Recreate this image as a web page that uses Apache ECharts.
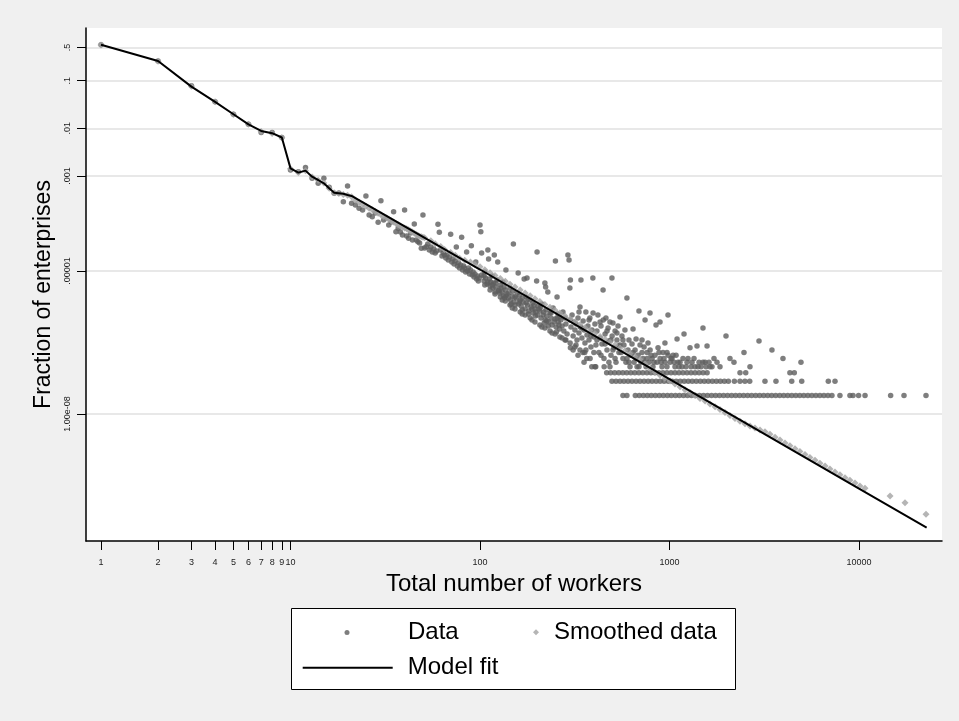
<!DOCTYPE html>
<html><head><meta charset="utf-8">
<script src="https://cdn.jsdelivr.net/npm/echarts@6/dist/echarts.min.js"></script>
<style>html,body{margin:0;padding:0;background:#f0f0f0}#chart{width:959px;height:721px}</style>
</head><body><div id="chart"></div>
<script>
// ---- tick labels ----
const xTickValues = [1,2,3,4,5,6,7,8,9,10,100,1000,10000];
const xTickLabels = ['1','2','3','4','5','6','7','8','9','10','100','1000','10000'];
const yTickValues = [0.5, 0.1, 0.01, 0.001, 0.00001, 1e-8];
const yTickLabels = ['.5', '.1', '.01', '.001', '.00001', '1.00e-08'];

// ---- Model fit ----
const modelX = [1,2,3,4,5,6,7,8,9,10,11,12,13,14,15,16,17,18,19,20,21,100,1000,10000,22750];
const modelY = [0.57,0.26,0.075,0.036,0.0197,0.0121,0.0088,0.0079,0.0064,0.00144,0.00117,0.00129,0.00096,0.00082,0.0007,0.000549,0.000444,0.000432,0.00042,0.000397,0.000379,1.08e-5,5.4e-8,2.7e-10,4.1e-11];

// ---- Data: small sizes ----
const dataHeadX = [1,2,3,4,5,6,7,8,9,10,11,12,13,14,15,16,17,18,19,20,21];
const dataHeadY = [0.57,0.26,0.078,0.036,0.0197,0.0121,0.0082,0.0082,0.0064,0.00133,0.00122,0.00151,0.00089,0.0007,0.00089,0.000576,0.000432,0.000437,0.000287,0.000614,0.000266];

// ---- Data: sizes 22-101 ----
const dataLow = [[22,2.45e-4],[23,2.09e-4],[24,1.92e-4],[25,3.78e-4],[26,1.51e-4],[27,1.39e-4],[28,1.66e-4],[29,1.06e-4],[30,3.02e-4],[31,1.19e-4],[32,1.31e-4],[33,9.31e-5],[34,1.08e-4],[35,1.77e-4],[36,6.73e-5],[37,7.94e-5],[38,6.64e-5],[39,5.73e-5],[40,1.92e-4],[41,5.46e-5],[42,4.89e-5],[43,6.32e-5],[44,4.5e-5],[45,9.8e-5],[46,4.5e-5],[47,4.14e-5],[48,3.89e-5],[49,3.01e-5],[50,1.51e-4],
[51,3.05e-5],[52,3.25e-5],[53,3.71e-5],[54,2.77e-5],[55,3.21e-5],[56,2.52e-5],[57,2.91e-5],[58,2.40e-5],[59,2.64e-5],[60,9.66e-5],[61,6.54e-5],[62,2.77e-5],[63,2.08e-5],[64,2.40e-5],[65,2.18e-5],[66,1.88e-5],[67,2.18e-5],[68,1.71e-5],[69,1.98e-5],[70,5.94e-5],[71,1.55e-5],[72,1.80e-5],[73,1.41e-5],[74,1.63e-5],[75,3.21e-5],[76,1.28e-5],[77,1.48e-5],[78,1.16e-5],[79,1.34e-5],[80,5.13e-5],[81,1.05e-5],[82,1.28e-5],[83,1.16e-5],[84,9.54e-6],[85,2.52e-5],[86,1.00e-5],[87,1.16e-5],[88,8.66e-6],[89,1.05e-5],[90,3.41e-5],[91,8.28e-6],[92,9.54e-6],[93,7.51e-6],[94,8.66e-6],[95,1.55e-5],[96,6.82e-6],[97,7.88e-6],[98,6.19e-6],[99,7.16e-6],[100,9.31e-5],[101,6.73e-5]];

// ---- Data: sizes 102-264 ----
const dataMid = [[102,2.40e-5],[102,8.28e-6],[105,6.19e-6],[106,9.54e-6],[107,7.16e-6],[109,5.35e-6],[110,2.77e-5],[111,1.80e-5],[112,6.82e-6],[113,4.86e-6],[114,5.90e-6],[116,7.88e-6],[117,4.41e-6],[119,2.18e-5],[118,5.62e-6],[121,4.63e-6],[123,6.50e-6],[124,1.55e-5],[125,3.82e-6],[128,5.10e-6],[127,3.47e-6],[129,4.41e-6],[132,5.90e-6],[133,3.00e-6],[136,4.01e-6],[137,1.05e-5],[139,3.30e-6],[141,2.72e-6],[144,4.41e-6],[145,2.47e-6],[150,3.71e-5],[148,3.00e-6],[149,3.82e-6],[151,2.24e-6],[155,2.72e-6],[157,3.47e-6],[159,9.09e-6],[160,2.04e-6],[163,2.47e-6],[162,3.15e-6],[165,1.85e-6],[169,2.24e-6],[171,6.82e-6],[173,1.60e-6],[175,2.86e-6],[177,7.16e-6],[178,1.94e-6],[181,1.45e-6],[184,2.47e-6],[186,1.76e-6],[190,2.14e-6],[191,1.32e-6],[195,1.60e-6],[200,2.52e-5],[199,6.19e-6],[201,1.20e-6],[202,1.85e-6],[207,1.45e-6],[210,1.04e-6],[212,2.04e-6],[215,1.20e-6],[220,5.62e-6],[221,9.39e-7],[223,1.52e-6],[225,1.14e-6],[228,3.64e-6],[231,8.53e-7],[234,1.32e-6],[237,1.04e-6],[240,7.38e-7],[243,1.68e-6],[250,1.63e-5],[249,9.86e-7],[252,6.70e-7],[255,2.86e-6],[258,1.26e-6],[259,8.53e-7],[264,1.09e-6],[263,6.08e-7],[209,1.76e-6],[222,4.63e-6],[196,1.14e-6],[229,7.03e-7],[253,5.26e-7],[180,1.26e-6],[153,1.94e-6],[135,2.72e-6],[120,3.64e-6],[167,1.52e-6],[218,8.12e-7],
[105,7.88e-6],[110,5.90e-6],[116,5.10e-6],[121,5.62e-6],[126,4.01e-6],[131,3.64e-6],[134,4.63e-6],[137,3.00e-6],[142,3.47e-6],[146,2.04e-6],[153,2.86e-6],[161,2.24e-6],[167,2.72e-6],[175,2.14e-6],[179,2.59e-6],[188,1.60e-6],[193,1.94e-6],[197,1.38e-6],[205,1.60e-6],[217,1.38e-6],[225,8.95e-7],[237,1.32e-6],[246,8.53e-7],[255,1.04e-6],[261,7.38e-7],
[106,5.10e-6],[113,4.01e-6],[120,3.30e-6],[128,2.86e-6],[136,2.35e-6],[144,1.94e-6],[153,1.60e-6],[163,1.38e-6],[173,1.20e-6],[184,1.04e-6],[195,8.53e-7],[207,7.38e-7],[220,6.38e-7],[234,5.52e-7],[249,4.77e-7],[264,4.13e-7],[131,2.47e-6],[148,1.68e-6],[167,1.26e-6],[188,9.39e-7],[212,6.70e-7],[240,5.01e-7]];

// ---- Data: sizes 264-550 ----
const dataHigh = [[267,9.39e-7],[271,7.03e-7],[274,1.38e-6],[277,5.52e-7],[281,1.04e-6],[284,7.74e-7],[288,4.77e-7],[291,2.18e-5],[295,1.71e-5],[300,6.50e-6],[298,4.41e-6],[299,9.39e-7],[300,2.44e-7],[302,6.70e-7],[306,1.20e-6],[310,4.33e-7],[313,8.53e-7],[317,5.79e-7],[321,7.74e-7],[325,3.57e-7],[329,1.04e-6],[333,5.01e-7],[337,1.76e-6],[338,6.70e-7],[341,6.50e-6],[345,3.93e-7],[349,1.95e-7],[350,8.95e-7],[354,5.79e-7],[358,3.09e-7],[362,1.38e-6],[367,4.55e-7],[366,1.46e-7],[371,7.03e-7],[376,3.57e-7],[380,1.04e-6],[385,2.55e-7],[389,9.76e-8],[390,5.79e-7],[394,7.16e-6],[395,1.32e-6],[399,4.13e-7],[404,7.74e-7],[409,2.80e-7],[414,5.52e-7],[419,1.20e-6],[424,1.95e-7],[430,3.93e-7],[435,7.03e-7],[440,2.94e-7],[446,4.01e-6],[447,9.39e-7],[451,1.46e-7],[457,4.77e-7],[462,1.04e-6],[468,2.20e-7],[474,6.38e-7],[479,3.40e-7],[485,8.53e-7],[491,1.71e-7],[497,7.16e-6],[498,4.33e-7],[503,8.12e-7],[509,2.44e-7],[516,5.52e-7],[522,1.22e-7],[528,3.57e-7],[535,7.03e-7],[541,1.95e-7],[548,1.09e-6],[547,2.80e-7],[408,9.76e-8],[452,9.76e-8],[357,1.95e-7],[381,1.46e-7],
[321,2.80e-7],[333,1.38e-6],[345,6.38e-7],[362,2.20e-7],[376,9.39e-7],[385,4.33e-7],[399,1.95e-7],[414,3.57e-7],[430,8.53e-7],[435,1.71e-7],[457,2.94e-7],[468,5.52e-7],[479,1.22e-7],[491,3.57e-7],[503,2.20e-7],[516,1.46e-7],[528,5.01e-7],[541,2.67e-7],[284,3.57e-7],[310,2.20e-7],[329,1.71e-7],[354,1.22e-7],[404,9.76e-8],[485,9.76e-8],
[271,3.93e-7],[281,3.57e-7],[299,3.09e-7],[317,2.55e-7],[337,2.20e-7]];

// ---- Data: sizes above 550 ----
const dataTail = [[561,4.33e-7],[568,1.46e-7],[575,2.80e-7],[582,5.79e-7],[589,1.22e-7],[596,2.72e-6],[604,2.20e-7],[611,3.57e-7],[619,9.76e-8],[626,1.71e-7],[634,2.94e-7],[642,6.08e-7],[650,1.22e-7],[658,2.20e-7],[666,3.75e-7],[674,9.76e-8],[682,1.71e-7],[690,1.45e-6],[699,2.80e-7],[707,1.22e-7],[716,1.95e-7],[725,1.46e-7],[734,2.55e-7],[743,9.39e-7],[752,9.76e-8],[761,1.95e-7],[770,3.09e-7],[779,1.22e-7],[789,1.32e-6],[790,2.20e-7],[809,1.46e-7],[818,9.76e-8],[838,1.71e-7],[849,7.38e-7],[859,1.22e-7],[870,2.44e-7],[891,8.53e-7],[892,1.46e-7],[913,9.76e-8],[924,1.95e-7],[946,3.09e-7],[947,1.22e-7],[970,9.76e-8],[982,1.20e-6],[983,1.71e-7],[1007,1.22e-7],[1031,1.46e-7],[1044,1.71e-7],[1069,9.76e-8],[1096,3.75e-7],[1109,1.22e-7],[1136,1.22e-7],[1164,9.76e-8],[1193,4.77e-7],[1222,9.76e-8],[1252,1.46e-7],[1283,2.44e-7],[1315,1.22e-7],[1364,9.76e-8],[1397,2.68e-7],[1432,1.22e-7],[1467,9.76e-8],[1502,6.38e-7],[1540,1.22e-7],[1578,2.68e-7],[1616,1.22e-7],[1676,9.76e-8],[1717,1.46e-7],[1781,1.22e-7],[1847,9.76e-8],[1987,4.33e-7],[2085,1.46e-7],[2189,1.22e-7],[2472,1.95e-7],[2967,3.40e-7],[3473,2.20e-7],[3970,1.46e-7],[4940,1.22e-7],[2659,9.76e-8],
[555,1.95e-7],[568,3.57e-7],[596,1.46e-7],[611,1.22e-7],[642,1.95e-7],[666,1.46e-7],[690,9.76e-8],[716,3.57e-7],[734,1.22e-7],[761,1.46e-7],[799,1.71e-7],[828,1.22e-7],[880,1.95e-7],[902,1.22e-7],[935,1.46e-7],[970,1.95e-7],[1019,1.46e-7],[1057,1.22e-7],[1083,1.71e-7],[1122,9.76e-8],[1178,1.46e-7],[1237,1.22e-7],[1299,9.76e-8],[1347,1.46e-7],[1414,9.76e-8],[1502,1.22e-7],[1559,9.76e-8],[1636,9.76e-8]];

// ---- Data: the three lowest count levels (1, 2 and 3 enterprises) ----
const level1Y = 2.44e-8;
const level1X = [568,596,660,693,728,764,802,842,884,928,975,1023,1075,1128,1185,1244,1306,1371,1440,1512,1587,1667,1750,1837,1929,2025,2127,2233,2344,2461,2584,2713,2849,2991,3141,3298,3462,3635,3817,4008,4208,4419,4640,4872,5115,5371,5640,5922,6218,6529,6855,7198,7932,8957,9300,9950,10760,14690,17280,22570];
const level2Y = 4.88e-8;
const level2X = [497,522,548,575,604,634,666,699,734,771,809,850,892,937,984,1033,1085,1139,1196,1256,1318,1384,1454,1526,1602,1683,1767,1855,1948,2045,2200,2355,2500,2650,3190,3646,4416,4986,6887,7471];
const level3Y = 7.32e-8;
const level3X = [466,489,514,540,567,595,625,656,689,723,760,798,837,879,923,969,1018,1069,1122,1178,1237,1299,1364,1432,1504,1579,2355,2525,4319,4555];

// ---- Smoothed data ----
const smoothX = [1,2,3,4,5,6,7,8,9,10,11,12,13,14,15,16,17,18,19,20,21,
22,23,24,25,26,27,28,29,30,31,32,33,34,35,36,37,38,39,40,41,42,43,44,45,46,47,48,49,50,51,55,58,62,65,70,74,78,83,89,94,100,106,113,120,128,136,144,153,163,173,184,195,207,220,234,249,264,281,299,317,337,358,380,404,430,457,485,516,548,582,619,658,699,743,789,838,891,946,1007,1069,1136,1207,1283,1364,1449,1540,1636,1739,1847,1963,2085,2216,2355,2502,2659,2825,3003,3190,3390,3606,3828,4070,4322,4596,4880,5188,5510,5859,6222,6619,7025,7468,7932,8433,8957,9526,10113,10760,14590,17490,22570];
const smoothY = [0.56,0.255,0.076,0.036,0.0195,0.0122,0.0086,0.0078,0.0063,0.00142,0.00118,0.00128,0.00095,0.00081,0.00071,0.00055,0.000445,0.000425,0.000405,0.00039,0.000365,
3.10e-4,2.81e-4,2.55e-4,2.31e-4,2.10e-4,1.94e-4,1.79e-4,1.65e-4,1.52e-4,1.41e-4,1.32e-4,1.23e-4,1.14e-4,1.07e-4,1.00e-4,9.4e-5,8.83e-5,8.33e-5,8.05e-5,7.79e-5,7.35e-5,6.97e-5,6.61e-5,6.26e-5,5.95e-5,5.65e-5,5.41e-5,5.28e-5,5.15e-5,5.0e-5,4.33e-5,3.76e-5,3.27e-5,2.84e-5,2.47e-5,2.15e-5,1.86e-5,1.70e-5,1.55e-5,1.38e-5,1.23e-5,1.07e-5,9.26e-6,8.08e-6,7.02e-6,6.10e-6,5.30e-6,4.61e-6,4.01e-6,3.48e-6,3.03e-6,2.63e-6,2.29e-6,1.99e-6,1.73e-6,1.50e-6,1.31e-6,1.14e-6,9.86e-7,8.56e-7,7.45e-7,6.48e-7,5.62e-7,4.89e-7,4.25e-7,3.69e-7,3.21e-7,2.79e-7,2.43e-7,2.11e-7,1.83e-7,1.59e-7,1.39e-7,1.12e-7,9.0e-8,7.48e-8,6.50e-8,5.64e-8,4.91e-8,4.27e-8,3.71e-8,3.23e-8,2.80e-8,2.43e-8,2.11e-8,1.87e-8,1.62e-8,1.41e-8,1.23e-8,1.07e-8,9.25e-9,8.04e-9,7.0e-9,6.2e-9,5.55e-9,5.06e-9,4.61e-9,4.21e-9,3.74e-9,3.25e-9,2.83e-9,2.46e-9,2.14e-9,1.86e-9,1.62e-9,1.40e-9,1.22e-9,1.06e-9,9.2e-10,8.0e-10,6.95e-10,6.04e-10,5.25e-10,4.57e-10,4.06e-10,3.53e-10,3.07e-10,2.74e-10,1.89e-10,1.36e-10,7.8e-11];

// ---- build (log10 coordinates on value axes labelled in original units) ----
const L = Math.log10;
const toLog = p => [L(p[0]), L(p[1])];
const dataPoints = []
  .concat(dataHeadX.map((x, i) => [x, dataHeadY[i]]))
  .concat(dataLow, dataMid, dataHigh, dataTail)
  .concat(level1X.map(x => [x, level1Y]))
  .concat(level2X.map(x => [x, level2Y]))
  .concat(level3X.map(x => [x, level3Y]))
  .map(toLog);
const smoothPoints = smoothX.map((x, i) => toLog([x, smoothY[i]]));
const modelPoints = modelX.map((x, i) => toLog([x, modelY[i]]));

function labeller(values, labels) {
  return function (v) {
    for (let i = 0; i < values.length; i++) {
      if (Math.abs(L(values[i]) - v) < 1e-6) return labels[i];
    }
    return '';
  };
}

const FONT = '"Liberation Sans", Arial, Helvetica, sans-serif';
const chart = echarts.init(document.getElementById('chart'), null, { renderer: 'canvas' });
chart.setOption({
  animation: false,
  backgroundColor: '#f0f0f0',
  textStyle: { fontFamily: FONT },
  grid: { left: 86, right: 17, top: 28, bottom: 180, show: true, backgroundColor: '#ffffff', borderWidth: 0 },
  xAxis: {
    type: 'value', min: -0.0792, max: 4.438,
    name: 'Total number of workers', nameLocation: 'middle', nameGap: 29,
    nameTextStyle: { fontSize: 24, color: '#000', fontFamily: FONT },
    axisLine: { show: true, onZero: false, lineStyle: { color: '#000', width: 1.5 } },
    axisTick: { show: true, length: 9, customValues: xTickValues.map(v => L(v)), lineStyle: { color: '#000', width: 1 } },
    axisLabel: { show: true, margin: 17, fontSize: 9, color: '#222', fontFamily: FONT, hideOverlap: false,
      customValues: xTickValues.map(v => L(v)), formatter: labeller(xTickValues, xTickLabels) },
    splitLine: { show: false }
  },
  yAxis: {
    type: 'value', min: -10.67, max: 0.107,
    name: 'Fraction of enterprises', nameLocation: 'middle', nameGap: 24,
    nameTextStyle: { fontSize: 23, color: '#000', fontFamily: FONT, padding: [0, 20, 0, 0] },
    axisLine: { show: true, onZero: false, lineStyle: { color: '#000', width: 1.5 } },
    axisTick: { show: true, length: 9, customValues: yTickValues.map(v => L(v)), lineStyle: { color: '#000', width: 1 } },
    axisLabel: { show: true, rotate: 90, margin: 14, fontSize: 9, color: '#222', fontFamily: FONT, hideOverlap: false,
      customValues: yTickValues.map(v => L(v)), formatter: labeller(yTickValues, yTickLabels) },
    splitLine: { show: true, lineStyle: { color: '#e8e8e8', width: 2 } }
  },
  graphic: [{
    type: 'rect', left: 291, top: 608, z: 1,
    shape: { width: 444, height: 81 },
    style: { fill: '#ffffff', stroke: '#000000', lineWidth: 1 }
  }],
  legend: [
    { data: ['Data'], left: 344.5, top: 620.5, padding: 0, itemWidth: 5, itemHeight: 5, icon: 'circle', selectedMode: false, z: 5,
      textStyle: { fontSize: 24, color: '#000', fontFamily: FONT, padding: [0, 0, 0, 53.5] } },
    { data: ['Smoothed data'], left: 533, top: 620.3, padding: 0, itemWidth: 6, itemHeight: 6, icon: 'diamond', selectedMode: false, z: 5,
      textStyle: { fontSize: 24, color: '#000', fontFamily: FONT, padding: [0, 0, 0, 10] } },
    { data: ['Model fit'], left: 302.7, top: 655.7, padding: 0, itemWidth: 90, itemHeight: 2, icon: 'rect', selectedMode: false, z: 5,
      textStyle: { fontSize: 24, color: '#000', fontFamily: FONT, padding: [0, 0, 0, 10] } }
  ],
  series: [
    { name: 'Data', type: 'scatter', data: dataPoints, symbol: 'circle', symbolSize: 5.5,
      itemStyle: { color: '#5e5e5e' }, z: 2, silent: true },
    { name: 'Smoothed data', type: 'scatter', data: smoothPoints, symbol: 'diamond', symbolSize: 7,
      itemStyle: { color: '#a3a3a3' }, z: 3, silent: true },
    { name: 'Model fit', type: 'line', data: modelPoints, showSymbol: false, symbol: 'none',
      lineStyle: { color: '#000', width: 2 }, itemStyle: { color: '#000' }, z: 4, silent: true }
  ]
});
</script></body></html>
